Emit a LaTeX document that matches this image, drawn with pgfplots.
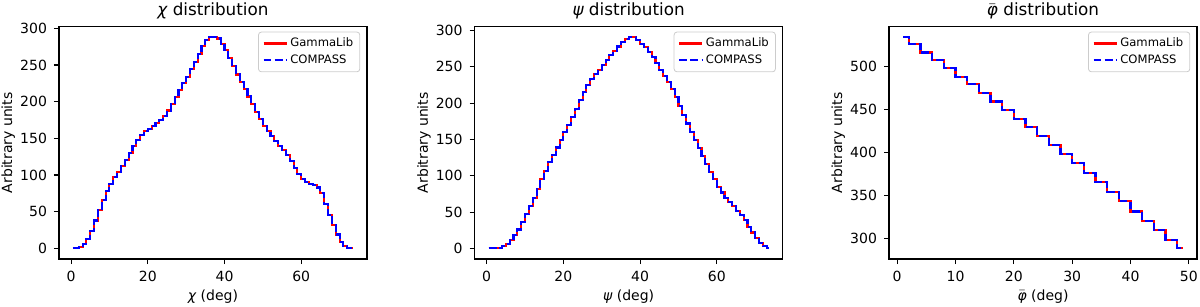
\documentclass[border=0pt]{standalone}
\usepackage{fontspec}
\setmainfont{DejaVu Sans}
\usepackage{pgfplots}
\pgfplotsset{compat=1.18}
\usepackage{pgfplotstable}

\pgfplotstableread{
x y
0.5 0
1.5 0
2.5 2
3.5 6
4.5 13
5.5 24
6.5 38
7.5 52
8.5 66
9.5 78
10.5 88
11.5 97
12.5 104
13.5 112
14.5 120
15.5 130
16.5 140
17.5 148
18.5 155
19.5 160
20.5 163
21.5 167
22.5 171
23.5 175
24.5 181
25.5 188
26.5 197
27.5 206
28.5 216
29.5 225
30.5 234
31.5 244
32.5 254
33.5 265
34.5 276
35.5 284
36.5 288
37.5 288
38.5 286
39.5 279
40.5 270
41.5 260
42.5 248
43.5 237
44.5 227
45.5 217
46.5 207
47.5 197
48.5 186
49.5 176
50.5 167
51.5 160
52.5 153
53.5 147
54.5 140
55.5 134
56.5 127
57.5 119
58.5 110
59.5 101
60.5 95
61.5 91
62.5 88
63.5 86
64.5 83
65.5 76
66.5 60
67.5 46
68.5 32
69.5 19
70.5 9
71.5 3
72.5 1
73.5 0
}\chidata

\pgfplotstableread{
x y
0.5 0
1.5 0
2.5 0
3.5 1
4.5 3
5.5 6
6.5 11
7.5 18
8.5 26
9.5 36
10.5 47
11.5 58
12.5 70
13.5 82
14.5 95
15.5 107
16.5 119
17.5 129
18.5 139
19.5 149
20.5 160
21.5 170
22.5 181
23.5 192
24.5 204
25.5 215
26.5 225
27.5 233
28.5 240
29.5 246
30.5 253
31.5 260
32.5 266
33.5 272
34.5 278
35.5 284
36.5 288
37.5 291
38.5 291
39.5 287
40.5 282
41.5 277
42.5 271
43.5 264
44.5 255
45.5 246
46.5 238
47.5 229
48.5 219
49.5 208
50.5 196
51.5 184
52.5 172
53.5 160
54.5 149
55.5 138
56.5 127
57.5 116
58.5 105
59.5 95
60.5 85
61.5 77
62.5 70
63.5 64
64.5 58
65.5 52
66.5 46
67.5 39
68.5 30
69.5 22
70.5 14
71.5 8
72.5 3
73.5 1
}\psidata

\pgfplotstableread{
x y
1 534
3 526
5 516
7 507
9 498
11 488
13 479
15 469
17 459
19 449
21 439
23 429
25 419
27 408
29 398
31 387
33 376
35 365
37 354
39 343
41 331
43 320
45 309
47 298
49 288
}\phidata

\newcommand{\lf}{\fontsize{5.8}{7}\selectfont}

\pgfplotsset{
  mpl/.style={
    scale only axis, width=154pt, height=116.25pt,
    anchor=south west,
    axis line style={line width=0.55pt},
    every tick/.style={black, line width=0.55pt},
    tick align=outside, major tick length=2.5pt,
    tick pos=left,
    /pgf/number format/assume math mode=true,
    tick label style={font=\fontsize{7}{8}\selectfont},
    label style={font=\fontsize{7}{8}\selectfont},
    title style={font=\fontsize{8.4}{10}\selectfont, at={(axis description cs:0.5,1)}, anchor=base, yshift=-0.7pt, inner sep=0pt},
    ylabel style={at={(axis description cs:-0.1412,0.5)}, anchor=south, inner sep=0pt},
    xlabel style={at={(axis description cs:0.5,0)}, anchor=north, yshift=-15pt, inner sep=0pt},
    legend style={at={(axis description cs:0.978,0.978)}, anchor=north east,
      draw=black!20, rounded corners=1.5pt, fill=white, fill opacity=0.8, text opacity=1,
      font=\lf, row sep=0pt, inner xsep=2pt, inner ysep=1.5pt,
      nodes={inner sep=1.3pt}},
    legend cell align=left,
    legend image code/.code={\draw[##1] (0pt,0pt) -- (11.6pt,0pt);},
  },
  gl/.style={red, line width=1.05pt, const plot mark mid},
  cp/.style={blue, line width=1.05pt, dash pattern=on 3.9pt off 1.7pt, const plot mark mid},
}

\begin{document}
\begin{tikzpicture}
\path[use as bounding box] (0,0) rectangle (600pt,153pt);

\begin{axis}[mpl, at={(29.5pt,23.5pt)},
  xmin=-3.15, xmax=77.15, ymin=-14.4, ymax=302.4,
  xtick={0,20,40,60}, ytick={0,50,100,150,200,250,300},
  title={{\itshape χ} distribution},
  xlabel={{\itshape χ} (deg)}, ylabel={Arbitrary units}]
\addplot[gl] table[x=x,y=y] {\chidata};
\addlegendentry{\lf GammaLib}
\addplot[cp] table[x=x,y=y] {\chidata};
\addlegendentry{\lf COMPASS}
\end{axis}

\begin{axis}[mpl, at={(237.3pt,23.5pt)},
  xmin=-3.15, xmax=77.15, ymin=-14.55, ymax=305.55,
  xtick={0,20,40,60}, ytick={0,50,100,150,200,250,300},
  title={{\itshape ψ} distribution},
  xlabel={{\itshape ψ} (deg)}, ylabel={Arbitrary units}]
\addplot[gl] table[x=x,y=y] {\psidata};
\addlegendentry{\lf GammaLib}
\addplot[cp] table[x=x,y=y] {\psidata};
\addlegendentry{\lf COMPASS}
\end{axis}

\begin{axis}[mpl, at={(444.5pt,23.5pt)},
  xmin=-1.4, xmax=51.4, ymin=275.7, ymax=546.3,
  xtick={0,10,20,30,40,50}, ytick={300,350,400,450,500},
  title={$\bar{\mbox{\itshape φ}}$ distribution},
  xlabel={$\bar{\mbox{\itshape φ}}$ (deg)}, ylabel={Arbitrary units}]
\addplot[gl] table[x=x,y=y] {\phidata};
\addlegendentry{\lf GammaLib}
\addplot[cp] table[x=x,y=y] {\phidata};
\addlegendentry{\lf COMPASS}
\end{axis}
\end{tikzpicture}
\end{document}
